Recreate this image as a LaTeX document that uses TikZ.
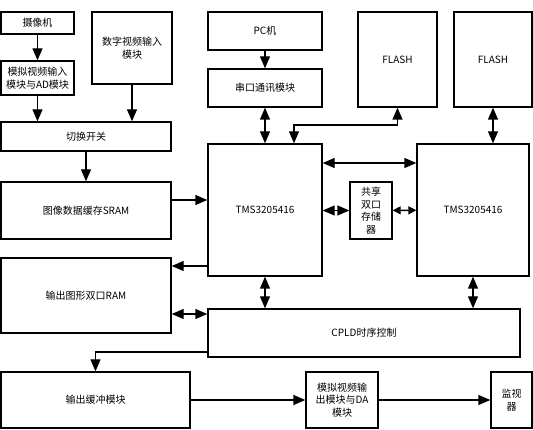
\documentclass[tikz,border=0pt]{standalone}
\usepackage{fontspec}
\setmainfont{Noto Sans CJK SC}
\usepackage{tikz}
\usetikzlibrary{arrows.meta,positioning,calc}

\begin{document}
\begin{tikzpicture}[
  x=1pt, y=-1pt,
  box/.style={rectangle, draw, line width=1.4pt, minimum width=#1,
              inner sep=0pt, align=center,
              font=\fontsize{10}{12.5}\selectfont},
  arrow/.style={-{Triangle[length=12pt,width=10pt]}, line width=1.4pt},
  dblarrow/.style={{Triangle[length=12pt,width=10pt]}-{Triangle[length=12pt,width=10pt]}, line width=1.4pt},
  shortdbl/.style={{Triangle[length=8pt,width=8pt]}-{Triangle[length=8pt,width=8pt]}, line width=1.4pt}
]
  \useasboundingbox (0,0) rectangle (533,430);

  % left column
  \node[box=73pt, minimum height=22pt] (cam) at (37.5,23) {摄像机};
  \node[box=73pt, minimum height=34pt] (adc) at (37.5,78) {模拟视频输入\\模块与AD模块};
  \node[box=80pt, minimum height=72pt] (digin) at (132,48) {数字视频输入\\模块};
  \node[box=170pt, minimum height=29pt] (switch) at (86,136.5) {切换开关};
  \node[box=170pt, minimum height=57pt] (sram) at (86,210.5) {图像数据缓存SRAM};
  \node[box=170pt, minimum height=75pt] (oram) at (86,295.5) {输出图形双口RAM};

  % top row
  \node[box=114pt, minimum height=38pt] (pc) at (265,31) {PC机};
  \node[box=114pt, minimum height=38pt] (uart) at (265,88) {串口通讯模块};
  \node[box=79pt, minimum height=95pt] (flasha) at (397.5,59.5) {FLASH};
  \node[box=78pt, minimum height=95pt] (flashb) at (493,59.5) {FLASH};

  % processors
  \node[box=114pt, minimum height=132pt] (dspa) at (265,210) {TMS3205416};
  \node[box=112pt, minimum height=132pt] (dspb) at (473,210) {TMS3205416};
  \node[box=42pt, minimum height=57pt] (shm) at (371,210.5) {共享\\双口\\存储\\器};
  \node[box=312pt, minimum height=48pt] (cpld) at (364,333) {CPLD时序控制};

  % bottom row
  \node[box=189pt, minimum height=56pt] (obuf) at (95.5,400) {输出缓冲模块};
  \node[box=72pt, minimum height=56pt] (dac) at (342,400) {模拟视频输\\出模块与DA\\模块};
  \node[box=41pt, minimum height=56pt] (mon) at (511.5,400) {监视\\器};

  \coordinate (ysram) at (0,200);
  \coordinate (yoram) at (0,266);
  \coordinate (ycpld) at (0,314);
  \coordinate (ylink) at (0,163);
  \coordinate (yout) at (0,352);
  \coordinate (bend) at (294,125);

  % Arrows
  \draw[arrow] (cam) -- (adc);
  \draw[arrow] (adc) -- (adc |- switch.north);
  \draw[arrow] (digin) -- (digin |- switch.north);
  \draw[arrow] (switch) -- (sram);
  \draw[arrow] (sram.east |- ysram) -- (dspa.west |- ysram);
  \draw[arrow] (dspa.west |- yoram) -- (oram.east |- yoram);
  \draw[dblarrow] (oram.east |- ycpld) -- (cpld.west |- ycpld);

  \draw[arrow] (pc) -- (uart);
  \draw[dblarrow] (uart) -- (dspa);
  \draw[dblarrow] (flasha) -- (flasha |- bend) -- (bend) -- (bend |- dspa.north);
  \draw[dblarrow] (flashb) -- (flashb |- dspb.north);

  \draw[dblarrow] (dspa.east |- ylink) -- (dspb.west |- ylink);
  \draw[dblarrow] (dspa.east |- shm) -- (shm);
  \draw[shortdbl] (shm) -- (dspb);
  \draw[dblarrow] (dspa) -- (dspa |- cpld.north);
  \draw[dblarrow] (dspb) -- (dspb |- cpld.north);

  \draw[arrow] (cpld.west |- yout) -| (obuf.north);
  \draw[arrow] (obuf) -- (dac);
  \draw[arrow] (dac) -- (mon);
\end{tikzpicture}
\end{document}
